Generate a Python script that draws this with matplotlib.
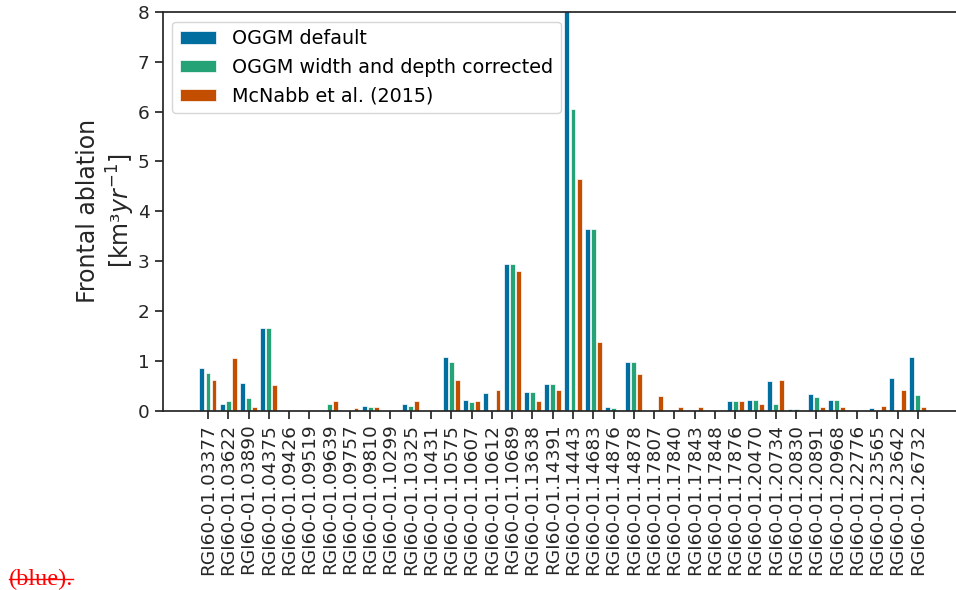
import numpy as np
import matplotlib.pyplot as plt
from matplotlib.lines import Line2D

glaciers = ['RGI60-01.03377', 'RGI60-01.03622', 'RGI60-01.03890', 'RGI60-01.04375',
            'RGI60-01.09426', 'RGI60-01.09519', 'RGI60-01.09639', 'RGI60-01.09757',
            'RGI60-01.09810', 'RGI60-01.10299', 'RGI60-01.10325', 'RGI60-01.10431',
            'RGI60-01.10575', 'RGI60-01.10607', 'RGI60-01.10612', 'RGI60-01.10689',
            'RGI60-01.13638', 'RGI60-01.14391', 'RGI60-01.14443', 'RGI60-01.14683',
            'RGI60-01.14876', 'RGI60-01.14878', 'RGI60-01.17807', 'RGI60-01.17840',
            'RGI60-01.17843', 'RGI60-01.17848', 'RGI60-01.17876', 'RGI60-01.20470',
            'RGI60-01.20734', 'RGI60-01.20830', 'RGI60-01.20891', 'RGI60-01.20968',
            'RGI60-01.22776', 'RGI60-01.23565', 'RGI60-01.23642', 'RGI60-01.26732']

oggm_default = [0.86, 0.13, 0.55, 1.66, 0, 0, 0, 0, 0.10, 0, 0.13, 0,
                1.08, 0.21, 0.35, 2.95, 0.38, 0.54, 8.5, 3.65, 0.07, 0.98,
                0, 0, 0, 0, 0.19, 0.21, 0.60, 0.03, 0.34, 0.22, 0, 0.06, 0.65, 1.08]
oggm_corrected = [0.75, 0.19, 0.26, 1.66, 0, 0, 0.13, 0, 0.07, 0, 0.10, 0,
                  0.98, 0.17, 0, 2.95, 0.38, 0.54, 6.05, 3.65, 0.06, 0.98,
                  0.01, 0, 0, 0, 0.19, 0.21, 0.14, 0.03, 0.28, 0.22, 0, 0, 0, 0.32]
mcnabb = [0.62, 1.06, 0.08, 0.51, 0, 0, 0.19, 0.05, 0.08, 0, 0.19, 0,
          0.62, 0.19, 0.41, 2.81, 0.19, 0.41, 4.65, 1.38, 0, 0.74,
          0.30, 0.08, 0.08, 0, 0.19, 0.13, 0.62, 0, 0.08, 0.08, 0, 0.09, 0.41, 0.08]

fig = plt.figure(figsize=(9.56, 5.9), dpi=100)
ax = fig.add_axes([0.1702, 0.3042, 0.8365, 0.6755])

x = np.arange(len(glaciers))
w = 0.24
ax.bar(x - 0.3, oggm_default, w, color='#006fa0', edgecolor='white', linewidth=0.5,
       label='OGGM default')
ax.bar(x, oggm_corrected, w, color='#25a377', edgecolor='white', linewidth=0.5,
       label='OGGM width and depth corrected')
ax.bar(x + 0.3, mcnabb, w, color='#c44e00', edgecolor='white', linewidth=0.5,
       label='McNabb et al. (2015)')

ax.set_xlim(-2.23, 37.2)
ax.set_ylim(0, 8)
ax.set_xticks(x)
ax.set_xticklabels(glaciers, rotation=90)
ax.set_yticks(range(9))
ax.tick_params(axis='both', labelsize=13.3, colors='#262626', length=6, width=1.25)
for s in ax.spines.values():
    s.set_color('#262626')
    s.set_linewidth(1.25)

ax.set_ylabel('Frontal ablation\n[km³$yr^{-1}$]', fontsize=17, color='#262626',
              multialignment='center', labelpad=0.5)

leg = ax.legend(loc='upper left', fontsize=13.8, handlelength=1.9, handleheight=0.6,
                labelspacing=0.5, fancybox=True)
leg.get_frame().set_edgecolor('#cccccc')

# struck-through red text in the lower left corner
fig.text(9 / 956, (590 - 585) / 590, '(blue).', color='red', fontsize=17.5,
         family='Liberation Serif', va='baseline')
fig.add_artist(Line2D([9 / 956, 73 / 956], [(590 - 579) / 590] * 2,
                      transform=fig.transFigure, color='red', linewidth=1))

fig.savefig('out.png', dpi=100)
